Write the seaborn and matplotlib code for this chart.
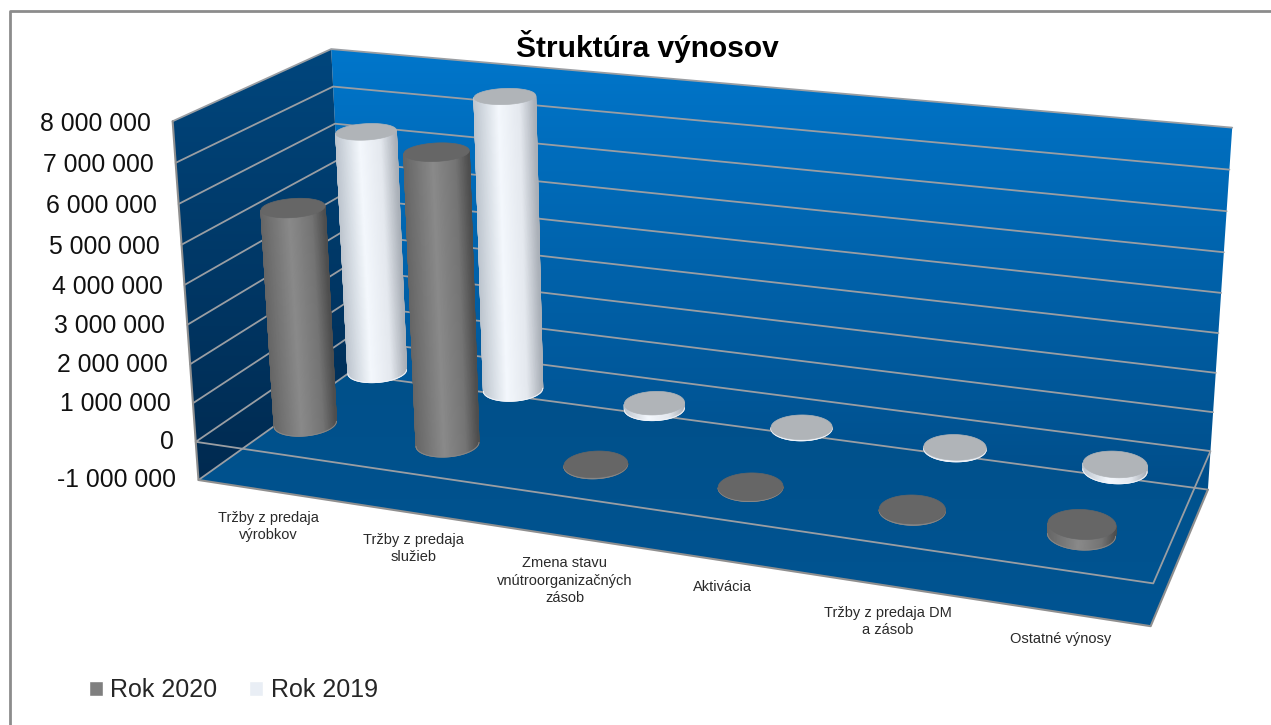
import numpy as np
import pandas as pd
import matplotlib
matplotlib.use("Agg")
import matplotlib.pyplot as plt
from matplotlib.colors import LinearSegmentedColormap
from matplotlib.patches import Polygon, Patch
import seaborn as sns

# datos
categorias = ["Tržby z predaja\nvýrobkov", "Tržby z predaja\nslužieb", "Zmena stavu\nvnútroorganizačných\nzásob",
              "Aktivácia", "Tržby z predaja DM\na zásob", "Ostatné výnosy"]
rok_2020 = [5550000, 7300000, 30000, 20000, 30000, 250000]
rok_2019 = [6450000, 7700000, 150000, 30000, 40000, 150000]
niveles = [-1000000, 0, 1000000, 2000000, 3000000, 4000000, 5000000, 6000000, 7000000, 8000000]
etiquetas_y = ["-1 000 000", "0", "1 000 000", "2 000 000", "3 000 000", "4 000 000", "5 000 000",
               "6 000 000", "7 000 000", "8 000 000"]

sns.set_theme(style="white")
plt.rcParams['font.family'] = ['Liberation Sans', 'DejaVu Sans']

# camara: esquinas del cubo (u, v, valor en millones) -> pixeles
esquinas = [
    (0, 0, 8, 172, 122), (0, 0, -1, 199, 478), (1, 0, -1, 1151, 627), (1, 0, 0, 1153, 584),
    (0, 1, 8, 332, 48), (0, 1, -1, 347, 376), (1, 1, 8, 1232, 128), (1, 1, -1, 1208, 488),
]
filas = []
for u, v, w, px, py in esquinas:
    filas.append([u, v, w, 1, 0, 0, 0, 0, -px*u, -px*v, -px*w, -px])
    filas.append([0, 0, 0, 0, u, v, w, 1, -py*u, -py*v, -py*w, -py])
camara = np.linalg.svd(np.array(filas, float))[2][-1].reshape(3, 4)


def proyectar(u, v, valor):
    u, v, valor = np.broadcast_arrays(u, v, np.asarray(valor, float) / 1e6)
    p = camara @ np.vstack([u.ravel(), v.ravel(), valor.ravel(), np.ones(u.size)])
    return p[0] / p[2], p[1] / p[2]


def puntos(*esq):
    return np.array([np.ravel(proyectar(*e)) for e in esq])


def pared(ax, poly, arriba, abajo):
    parche = Polygon(poly, closed=True, fc='none', ec='none')
    ax.add_patch(parche)
    grad = np.linspace(np.array(arriba), np.array(abajo), 128)[:, None, :] / 255
    x0, y0 = poly.min(axis=0)
    x1, y1 = poly.max(axis=0)
    im = ax.imshow(grad, extent=(x0, x1, y1, y0), aspect='auto', zorder=1, interpolation='bilinear')
    im.set_clip_path(parche)


def cilindro(ax, u, v, valor, cmap, techo, z):
    ang = np.linspace(0, 2*np.pi, 181)[:-1]
    cu = u + 0.032*np.cos(ang)
    cv = v + 0.105*np.sin(ang)
    bx, by = proyectar(cu, cv, 0)
    tx, ty = proyectar(cu, cv, valor)
    i_izq, i_der = np.argmin(bx), np.argmax(bx)
    n = len(ang)
    ida = [(i_izq + k) % n for k in range((i_der - i_izq) % n + 1)]
    vuelta = [(i_izq - k) % n for k in range((i_izq - i_der) % n + 1)]
    frente = ida if by[ida].mean() > by[vuelta].mean() else vuelta
    s = (bx[frente] - bx[i_izq]) / (bx[i_der] - bx[i_izq])
    ax.pcolormesh(np.vstack([bx[frente], tx[frente]]), np.vstack([by[frente], ty[frente]]),
                  np.vstack([s, s]), cmap=cmap, vmin=0, vmax=1, shading='gouraud', zorder=z)
    # bordes finos para suavizar el contorno
    ax.plot([bx[i_izq], tx[i_izq]], [by[i_izq], ty[i_izq]], color=cmap(0.0), lw=0.7, zorder=z)
    ax.plot([bx[i_der], tx[i_der]], [by[i_der], ty[i_der]], color=cmap(1.0), lw=0.7, zorder=z)
    ax.plot(bx[frente], by[frente], color=cmap(0.5), lw=0.7, zorder=z)
    ax.add_patch(Polygon(np.c_[tx, ty], fc=techo, ec=techo, lw=0.5, zorder=z + 0.5))


fig, ax = plt.subplots(figsize=(12.71, 7.25), dpi=100)
fig.subplots_adjust(0, 0, 1, 1)
ax.axis('off')

vmin, vmax = niveles[0], niveles[-1]
pared(ax, puntos((0, 1, vmax), (1, 1, vmax), (1, 1, vmin), (0, 1, vmin)), (0, 118, 203), (0, 78, 138))
pared(ax, puntos((0, 0, vmax), (0, 1, vmax), (0, 1, vmin), (0, 0, vmin)), (0, 70, 125), (0, 42, 80))
pared(ax, puntos((0, 1, vmin), (1, 1, vmin), (1, 0, vmin), (0, 0, vmin)), (0, 80, 138), (0, 84, 146))

# rejilla
trozos = []
for nivel in niveles:
    us, vs = [0, 0, 1], [0, 1, 1]
    if nivel == 0:
        us, vs = [0, 0, 1, 1, 0], [0, 1, 1, 0, 0]
    gx, gy = proyectar(np.array(us), np.array(vs), nivel)
    trozos.append(pd.DataFrame({'x': gx, 'y': gy, 'nivel': nivel}))
rejilla = pd.concat(trozos, ignore_index=True)
sns.lineplot(data=rejilla, x='x', y='y', units='nivel', estimator=None, sort=False,
             color='#9a9ea3', lw=1.3, legend=False, ax=ax, zorder=2)
borde = puntos((0, 0, vmax), (0, 0, vmin), (1, 0, vmin), (1, 1, vmin))
ax.plot(borde[:, 0], borde[:, 1], color='#8f8f8f', lw=1.5, zorder=2)

df = pd.DataFrame({'categoria': categorias, 'Rok 2020': rok_2020, 'Rok 2019': rok_2019})
gris = LinearSegmentedColormap.from_list('gris', [(0, '#666666'), (0.45, '#8a8a8a'), (0.8, '#747474'), (1, '#4e4e4e')])
blanco = LinearSegmentedColormap.from_list('blanco', [(0, '#bec6cf'), (0.4, '#f4f8fd'), (0.75, '#e4e8ee'), (1, '#aab0b8')])
estilos = {
    'Rok 2019': (0.75, blanco, '#b0b4b8'),
    'Rok 2020': (0.25, gris, '#666666'),
}
z = 3
for serie, (v, cmap, techo) in estilos.items():
    for i, valor in enumerate(df[serie]):
        cilindro(ax, (i + 0.5) / len(df), v, valor, cmap, techo, z)
        z += 1

# etiquetas de ejes
for nivel, texto in zip(niveles, etiquetas_y):
    ex, ey = proyectar(0, 0, nivel)
    ajuste = 3 * (nivel - vmin) / (vmax - vmin)
    ax.text(ex[0] - 22, ey[0] + ajuste, texto, ha='right', va='center', fontsize=17.8, color='#111111')
for i, cat in enumerate(categorias):
    ex, ey = proyectar((i + 0.5) / len(categorias), 0, vmin)
    ax.text(ex[0], ey[0] + 20, cat, ha='center', va='top', fontsize=10.5, color='#2a2a2a',
            linespacing=1.3)

ax.text(647, 46, "Štruktúra výnosov", ha='center', va='center', fontsize=21.5, fontweight='bold', color='black')

marco = dict(color='#8c8c8c', lw=2)
ax.plot([10, 10, 1271], [725, 11, 11], **marco)

ax.legend(handles=[Patch(fc='#7f7f7f', label='Rok 2020'), Patch(fc='#e9eef5', label='Rok 2019')],
          ncol=2, frameon=False, fontsize=18, loc='center left', bbox_to_anchor=(89 / 1271, 1 - 690 / 725),
          handlelength=0.55, handleheight=0.55, handletextpad=0.3, columnspacing=1.28, borderpad=0, borderaxespad=0)

ax.set_xlim(0, 1271)
ax.set_ylim(725, 0)
ax.set_xlabel('')
ax.set_ylabel('')
fig.savefig("out.png", dpi=100)
